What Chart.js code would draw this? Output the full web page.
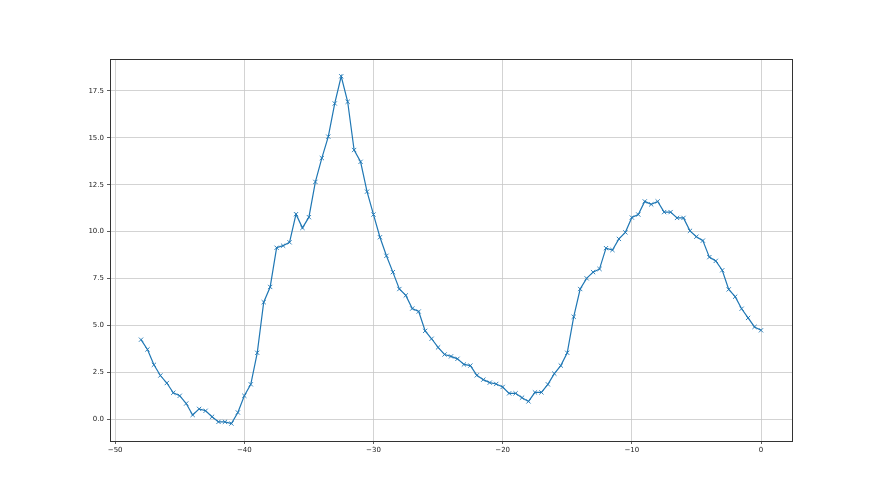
<!DOCTYPE html>
<html>
<head>
<meta charset="utf-8">
<script src="https://cdn.jsdelivr.net/npm/chart.js@4/dist/chart.umd.min.js"></script>
<style>
html,body{margin:0;padding:0;background:#fff;}
canvas{display:block;}
</style>
</head>
<body>
<canvas id="c" width="880" height="495"></canvas>
<script>
const xValues = [-48,-47.5,-47,-46.5,-46,-45.5,-45,-44.5,-44,-43.5,-43,-42.5,-42,-41.5,-41,-40.5,-40,-39.5,-39,-38.5,-38,-37.5,-37,-36.5,-36,-35.5,-35,-34.5,-34,-33.5,-33,-32.5,-32,-31.5,-31,-30.5,-30,-29.5,-29,-28.5,-28,-27.5,-27,-26.5,-26,-25.5,-25,-24.5,-24,-23.5,-23,-22.5,-22,-21.5,-21,-20.5,-20,-19.5,-19,-18.5,-18,-17.5,-17,-16.5,-16,-15.5,-15,-14.5,-14,-13.5,-13,-12.5,-12,-11.5,-11,-10.5,-10,-9.5,-9,-8.5,-8,-7.5,-7,-6.5,-6,-5.5,-5,-4.5,-4,-3.5,-3,-2.5,-2,-1.5,-1,-0.5,0];
const yValues = [4.24,3.72,2.90,2.33,1.93,1.41,1.25,0.84,0.23,0.55,0.45,0.13,-0.14,-0.14,-0.23,0.36,1.25,1.86,3.54,6.24,7.05,9.14,9.25,9.43,10.93,10.20,10.77,12.65,13.92,15.06,16.83,18.28,16.92,14.35,13.72,12.13,10.91,9.70,8.71,7.84,6.94,6.60,5.90,5.74,4.71,4.29,3.83,3.45,3.35,3.22,2.92,2.86,2.34,2.11,1.95,1.88,1.72,1.38,1.38,1.15,0.95,1.43,1.43,1.86,2.43,2.86,3.54,5.46,6.94,7.51,7.84,8.01,9.12,9.02,9.61,9.96,10.75,10.91,11.61,11.45,11.61,11.04,11.04,10.73,10.73,10.04,9.73,9.52,8.64,8.44,7.94,6.92,6.53,5.89,5.40,4.92,4.74];
const xTicks = [-50,-40,-30,-20,-10,0];
const yTicks = [0,2.5,5,7.5,10,12.5,15,17.5];
const yTickLabels = ['0.0','2.5','5.0','7.5','10.0','12.5','15.0','17.5'];

const points = xValues.map((x,i)=>({x:x, y:yValues[i]}));

const frame = {
  id:'frame',
  afterDraw(chart){
    const a = chart.chartArea, ctx = chart.ctx;
    ctx.save();
    ctx.strokeStyle = '#333';
    ctx.lineWidth = 1;
    ctx.strokeRect(Math.round(a.left)+0.5, Math.round(a.top)+0.5, Math.round(a.right-a.left), Math.round(a.bottom-a.top));
    ctx.restore();
  }
};

new Chart(document.getElementById('c'), {
  type:'line',
  data:{datasets:[{
    data:points,
    borderColor:'#1f77b4',
    borderWidth:1.2,
    pointStyle:'crossRot',
    pointRadius:3,
    pointBorderWidth:0.9,
    pointBorderColor:'#1f77b4',
    pointBackgroundColor:'#1f77b4',
    tension:0,
    fill:false
  }]},
  options:{
    responsive:false,
    animation:false,
    devicePixelRatio:1,
    layout:{padding:{left:0,top:59,right:88,bottom:0}},
    plugins:{legend:{display:false},tooltip:{enabled:false}},
    scales:{
      x:{
        type:'linear',
        min:-50.4, max:2.4,
        afterBuildTicks(s){ s.ticks = xTicks.map(v=>({value:v})); },
        afterFit(s){ s.height = 54; },
        grid:{color:'#c8c8c8',lineWidth:0.8,tickLength:3,tickColor:'#333',drawTicks:true},
        border:{display:false},
        ticks:{font:{family:'DejaVu Sans',size:7},color:'#222',padding:2,maxRotation:0,autoSkip:false,
          callback:(v)=>String(v).replace('-','\u2212')}
      },
      y:{
        type:'linear',
        min:-1.16, max:19.2,
        afterBuildTicks(s){ s.ticks = yTicks.map(v=>({value:v})); },
        afterFit(s){ s.width = 110; },
        grid:{color:'#c8c8c8',lineWidth:0.8,tickLength:3,tickColor:'#333',drawTicks:true},
        border:{display:false},
        ticks:{font:{family:'DejaVu Sans',size:7},color:'#222',padding:3,autoSkip:false,
          callback:(v)=>{const i=yTicks.indexOf(v); return i>=0?yTickLabels[i]:'';}}
      }
    }
  },
  plugins:[frame]
});
</script>
</body>
</html>
